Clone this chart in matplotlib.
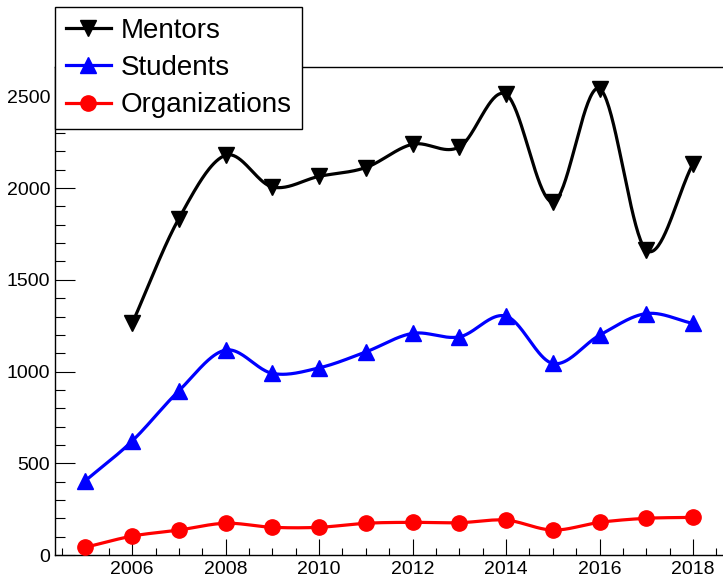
import matplotlib
matplotlib.use('Agg')
import matplotlib.pyplot as plt
from matplotlib.ticker import MultipleLocator
import numpy as np

plt.rcParams['font.family'] = ['Liberation Sans', 'DejaVu Sans']

# Data
yearsMentors = [2006, 2007, 2008, 2009, 2010, 2011, 2012, 2013, 2014, 2015, 2016, 2017, 2018]
mentors = [1262, 1834, 2179, 2006, 2064, 2112, 2239, 2224, 2511, 1924, 2542, 1661, 2133]

years = [2005, 2006, 2007, 2008, 2009, 2010, 2011, 2012, 2013, 2014, 2015, 2016, 2017, 2018]
students = [405, 621, 895, 1117, 990, 1020, 1107, 1208, 1189, 1302, 1044, 1198, 1316, 1262]
organizations = [42, 103, 136, 173, 151, 151, 173, 178, 176, 190, 136, 178, 200, 205]

labels = ['Mentors', 'Students', 'Organizations']


def smoothCurve(x, y, n=40):
    # Catmull-Rom style curve through the points (drawing style only)
    x = np.asarray(x, float)
    y = np.asarray(y, float)
    m = len(x)
    dy = np.zeros(m)
    dy[1:-1] = (y[2:] - y[:-2]) / (x[2:] - x[:-2])
    dy[0] = (y[1] - y[0]) / (x[1] - x[0])
    dy[-1] = (y[-1] - y[-2]) / (x[-1] - x[-2])
    xs, ys = [], []
    for i in range(m - 1):
        h = x[i + 1] - x[i]
        t = np.linspace(0, 1, n, endpoint=(i == m - 2))
        h00 = 2 * t ** 3 - 3 * t ** 2 + 1
        h10 = t ** 3 - 2 * t ** 2 + t
        h01 = -2 * t ** 3 + 3 * t ** 2
        h11 = t ** 3 - t ** 2
        xs.append(x[i] + t * h)
        ys.append(h00 * y[i] + h10 * h * dy[i] + h01 * y[i + 1] + h11 * h * dy[i + 1])
    return np.concatenate(xs), np.concatenate(ys)


fig = plt.figure(figsize=(7.23, 5.77), dpi=100)
ax = fig.add_axes([55 / 723, 22 / 577, 668 / 723, 488 / 577])

series = [
    (yearsMentors, mentors, 'black', 'v', 12),
    (years, students, 'blue', '^', 12),
    (years, organizations, 'red', 'o', 11),
]
handles = []
for (xv, yv, col, mk, ms), lab in zip(series, labels):
    xs, ys = smoothCurve(xv, yv)
    ax.plot(xs, ys, color=col, linewidth=2.3, zorder=2)
    ax.plot(xv, yv, linestyle='none', marker=mk, markersize=ms, color=col, zorder=3)
    h, = ax.plot([], [], color=col, linewidth=2.3, marker=mk, markersize=ms, label=lab)
    handles.append(h)

ax.set_xlim(2004.35, 2018.64)
ax.set_ylim(0, 2660)

ax.xaxis.set_major_locator(MultipleLocator(2))
ax.xaxis.set_minor_locator(MultipleLocator(0.5))
ax.yaxis.set_major_locator(MultipleLocator(500))
ax.yaxis.set_minor_locator(MultipleLocator(100))

ax.tick_params(axis='y', which='major', direction='in', length=14.5, width=0.8, labelsize=14, pad=3.5)
ax.tick_params(axis='y', which='minor', direction='in', length=7.2, width=0.8)
ax.tick_params(axis='x', which='major', direction='in', length=11.5, width=0.8, labelsize=14, pad=4)
ax.tick_params(axis='x', which='minor', direction='in', length=5.4, width=0.8)

ax.spines['right'].set_visible(False)
for s in ['left', 'bottom', 'top']:
    ax.spines[s].set_linewidth(1.0)

leg = ax.legend(handles=handles, loc='upper left', bbox_to_anchor=(55 / 723, 1 - 7 / 577),
                bbox_transform=fig.transFigure, borderaxespad=0, fontsize=20,
                fancybox=False, framealpha=1, edgecolor='black', handlelength=1.6,
                handletextpad=0.35, borderpad=0.4, labelspacing=0.4)
leg.get_frame().set_linewidth(1.0)

fig.savefig('out.png', dpi=100)
